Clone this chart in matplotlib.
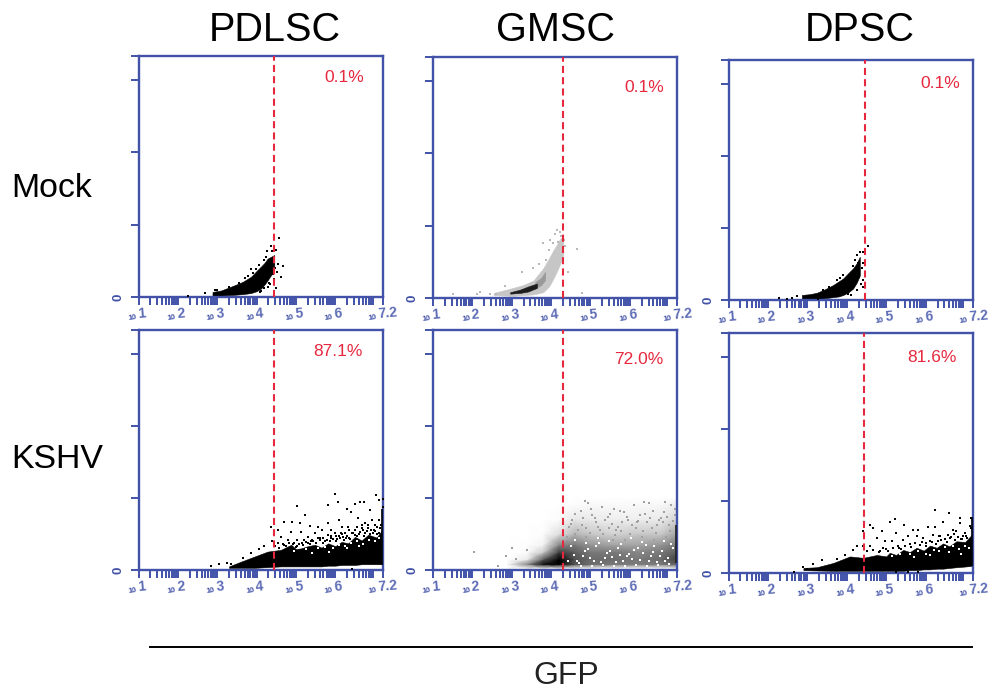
import numpy as np
import matplotlib
matplotlib.use("Agg")
import matplotlib.pyplot as plt
from matplotlib.lines import Line2D

plt.rcParams['font.family'] = ['Liberation Sans', 'DejaVu Sans']

columns = ["PDLSC", "GMSC", "DPSC"]
rows = ["Mock", "KSHV"]
x_label = "GFP"
percents = ["0.1%", "0.1%", "0.1%", "87.1%", "72.0%", "81.6%"]
gates = [4.44, 4.30, 4.45, 4.44, 4.30, 4.44]
exponents = ["1", "2", "3", "4", "5", "6", "7.2"]
exponent_pos = [1, 2, 3, 4, 5, 6, 7.2]

# core clouds: log10 x, lower and upper edge, y in tick units
pd_mock_x = [2.88, 3.10, 3.43, 3.65, 3.86, 4.00, 4.11, 4.20, 4.28, 4.45]
pd_mock_lo = [0.02, 0.02, 0.03, 0.04, 0.055, 0.08, 0.115, 0.17, 0.23, 0.37]
pd_mock_hi = [0.07, 0.09, 0.16, 0.21, 0.28, 0.36, 0.42, 0.47, 0.53, 0.58]
pd_mock_pts_x = [4.58, 4.37, 4.26, 4.50, 4.39, 4.67, 4.54, 4.61, 4.50, 4.20, 2.25, 2.70, 4.41, 4.45,
                 4.31, 4.09, 3.86, 3.98, 4.20, 4.47, 4.35, 4.52, 3.70, 3.55, 3.30, 3.00, 2.95, 4.05,
                 4.12, 4.18, 4.24, 4.30, 3.92, 3.78]
pd_mock_pts_y = [0.81, 0.71, 0.63, 0.65, 0.64, 0.43, 0.45, 0.27, 0.13, 0.12, 0.01, 0.05, 0.32, 0.25,
                 0.19, 0.07, 0.39, 0.39, 0.51, 0.40, 0.18, 0.35, 0.26, 0.20, 0.14, 0.09, 0.10, 0.44,
                 0.08, 0.12, 0.55, 0.14, 0.33, 0.29]

gm_mock_x = [2.54, 3.04, 3.30, 3.55, 3.80, 3.95, 4.06, 4.15, 4.23, 4.31]
gm_mock_lo = [0.04, 0.03, 0.04, 0.05, 0.08, 0.16, 0.27, 0.37, 0.47, 0.60]
gm_mock_hi = [0.07, 0.14, 0.18, 0.24, 0.41, 0.55, 0.66, 0.74, 0.82, 0.85]
gm_core_x = [2.96, 3.21, 3.42, 3.64]
gm_core_lo = [0.06, 0.07, 0.09, 0.14]
gm_core_hi = [0.08, 0.115, 0.16, 0.20]
gm_mid_x = [3.60, 3.75, 3.85]
gm_mid_lo = [0.13, 0.18, 0.25]
gm_mid_hi = [0.22, 0.28, 0.36]
gm_mock_pts_x = [1.51, 2.11, 2.20, 4.67, 4.78, 4.44, 3.79, 3.26, 3.55, 4.14, 4.23, 2.83, 3.97, 4.10,
                 4.30, 4.33, 4.26, 4.18, 2.45, 2.60, 3.70, 3.95, 4.05, 3.88, 4.36]
gm_mock_pts_y = [0.05, 0.05, 0.08, 0.68, 0.07, 0.36, 0.76, 0.36, 0.41, 0.94, 0.91, 0.17, 0.80, 0.88,
                 0.85, 0.80, 0.86, 0.78, 0.05, 0.06, 0.47, 0.66, 0.76, 0.52, 0.72]

dp_mock_x = [2.86, 3.05, 3.24, 3.45, 3.66, 3.80, 3.91, 4.05, 4.16, 4.25, 4.33]
dp_mock_lo = [0.015, 0.015, 0.015, 0.025, 0.04, 0.05, 0.07, 0.11, 0.16, 0.24, 0.34]
dp_mock_hi = [0.07, 0.08, 0.10, 0.15, 0.21, 0.26, 0.30, 0.38, 0.44, 0.51, 0.60]
dp_mock_pts_x = [4.53, 4.42, 4.33, 4.25, 2.28, 2.49, 2.60, 2.73, 4.46, 4.42, 4.25, 4.08, 4.04, 4.42,
                 4.29, 4.20, 3.91, 3.74, 3.28, 4.40, 4.38, 4.36, 4.10, 4.15, 4.31, 3.55, 3.40, 3.82]
dp_mock_pts_y = [0.75, 0.67, 0.67, 0.62, 0.03, 0.02, 0.03, 0.05, 0.35, 0.18, 0.14, 0.16, 0.09, 0.51,
                 0.51, 0.55, 0.35, 0.28, 0.01, 0.28, 0.44, 0.22, 0.07, 0.47, 0.32, 0.18, 0.14, 0.30]

pd_kshv_x = [3.30, 3.60, 3.94, 4.28, 4.62, 4.88, 5.00, 5.13, 5.30, 5.48, 5.65, 5.82, 6.00, 6.16, 6.33,
             6.50, 6.67, 6.84, 7.05, 7.20]
pd_kshv_lo = [0.03, 0.03, 0.03, 0.04, 0.05, 0.05, 0.05, 0.05, 0.05, 0.05, 0.05, 0.06, 0.06, 0.07, 0.07,
              0.07, 0.08, 0.08, 0.08, 0.08]
pd_kshv_hi = [0.05, 0.115, 0.185, 0.255, 0.28, 0.35, 0.29, 0.30, 0.33, 0.35, 0.31, 0.37, 0.33, 0.39, 0.37,
              0.46, 0.41, 0.49, 0.45, 0.56]
pd_kshv_pts_x = [5.99, 7.03, 6.08, 5.02, 5.82, 5.24, 4.69, 4.90, 4.45, 4.37, 4.54, 5.11, 5.35, 5.56, 5.82,
                 6.10, 6.31, 6.40, 6.50, 6.64, 6.74, 6.87, 7.10, 7.20, 7.20, 6.59, 6.76, 6.93, 7.10, 5.13,
                 4.88, 4.62, 4.79, 5.04, 5.30, 5.48, 5.65, 5.90, 6.16, 6.33, 6.50, 6.67, 6.84, 7.05, 5.56,
                 5.82, 5.99, 6.25, 6.42, 6.76, 5.30, 5.04, 6.10, 6.35, 6.60, 6.95, 7.10, 5.70, 5.90, 6.50,
                 4.40, 4.55, 4.20, 4.05, 3.85, 3.65, 3.35, 2.85, 3.05, 3.25, 6.42, 5.20, 5.42, 5.75, 6.05,
                 6.28, 6.70, 6.90, 7.00, 6.20, 4.70, 4.95, 5.15,
                 4.48, 4.58, 4.66, 4.74, 4.82, 4.92, 5.00, 5.08, 5.18, 5.26, 5.36, 5.44, 5.52, 5.60, 5.68,
                 5.78, 5.86, 5.94, 6.02, 6.12, 6.22, 6.30, 6.38, 6.46, 6.56, 6.64, 6.72, 6.80, 6.88, 6.98,
                 7.06, 7.14, 6.02, 6.18, 6.36, 6.54, 6.68, 6.82, 7.02, 7.16, 5.38, 5.62, 5.88, 6.14]
pd_kshv_pts_y = [1.06, 1.04, 0.95, 0.89, 0.90, 0.77, 0.67, 0.66, 0.53, 0.59, 0.56, 0.65, 0.61, 0.59, 0.65,
                 0.69, 0.84, 0.80, 0.92, 0.94, 0.94, 0.83, 0.97, 0.99, 0.88, 0.72, 0.65, 0.69, 0.69, 0.53,
                 0.53, 0.46, 0.42, 0.42, 0.46, 0.51, 0.56, 0.56, 0.59, 0.60, 0.56, 0.58, 0.58, 0.60, 0.44,
                 0.49, 0.51, 0.51, 0.51, 0.51, 0.37, 0.33, 0.47, 0.45, 0.50, 0.52, 0.52, 0.45, 0.44, 0.49,
                 0.40, 0.37, 0.33, 0.29, 0.24, 0.17, 0.09, 0.05, 0.09, 0.10, 0.02, 0.41, 0.42, 0.40, 0.43,
                 0.45, 0.55, 0.56, 0.54, 0.46, 0.34, 0.38, 0.37,
                 0.33, 0.31, 0.36, 0.33, 0.38, 0.36, 0.32, 0.36, 0.34, 0.39, 0.36, 0.40, 0.37, 0.41, 0.38,
                 0.42, 0.40, 0.43, 0.40, 0.44, 0.42, 0.47, 0.43, 0.52, 0.47, 0.53, 0.47, 0.54, 0.50, 0.55,
                 0.50, 0.58, 0.47, 0.50, 0.55, 0.60, 0.62, 0.62, 0.62, 0.63, 0.40, 0.44, 0.47, 0.52]
pd_edge_y = [0.07, 0.85]

# grey density of the GMSC KSHV cloud, 0 white to 1 black
gk_grid_x = [2.9, 3.4, 3.8, 4.2, 4.6, 5.0, 5.6, 6.2, 6.8, 7.2]
gk_grid_y = [0.02, 0.08, 0.15, 0.25, 0.35, 0.5, 0.7, 0.9, 1.02]
gk_density = [
    [0.00, 0.05, 0.05, 0.10, 0.10, 0.05, 0.02, 0.02, 0.02, 0.05],
    [0.05, 0.55, 0.95, 1.00, 0.75, 0.65, 0.60, 0.60, 0.60, 0.70],
    [0.00, 0.15, 0.70, 1.00, 0.75, 0.65, 0.65, 0.60, 0.65, 0.80],
    [0.00, 0.03, 0.30, 0.80, 0.70, 0.60, 0.60, 0.55, 0.60, 0.70],
    [0.00, 0.02, 0.10, 0.55, 0.60, 0.50, 0.45, 0.45, 0.50, 0.60],
    [0.00, 0.00, 0.03, 0.22, 0.40, 0.33, 0.28, 0.33, 0.33, 0.45],
    [0.00, 0.00, 0.00, 0.03, 0.18, 0.16, 0.14, 0.14, 0.16, 0.28],
    [0.00, 0.00, 0.00, 0.00, 0.03, 0.06, 0.05, 0.05, 0.07, 0.14],
    [0.00, 0.00, 0.00, 0.00, 0.00, 0.00, 0.00, 0.00, 0.00, 0.00],
]
gk_pts_x = [2.65, 3.00, 2.85, 2.05, 3.10, 3.40, 4.85, 4.95, 5.30, 5.60, 5.75, 6.10, 6.35, 6.50, 6.90,
            7.05, 4.60, 4.75, 5.05, 5.45, 5.85, 6.25, 6.60, 6.80, 4.45, 5.15, 5.55, 5.95, 6.45, 6.95,
            4.30, 4.50, 4.90, 5.25, 5.70, 6.15, 6.70, 7.10, 4.52, 4.68, 4.82, 5.02, 5.18, 5.36, 5.50,
            5.66, 5.80, 5.92, 6.06, 6.22, 6.38, 6.56, 6.74, 6.86, 7.00, 7.14, 4.40, 4.62, 4.78, 4.98,
            5.12, 5.32, 5.46, 5.62, 5.78, 6.00, 6.18, 6.34, 6.52, 6.66, 6.84, 7.02, 7.16, 4.56, 4.88,
            5.22, 5.58, 5.88, 6.30, 6.62, 6.92]
gk_pts_y = [0.05, 0.30, 0.20, 0.25, 0.15, 0.28, 0.96, 0.93, 0.88, 0.85, 0.82, 0.90, 0.94, 0.93, 0.95,
            0.90, 0.78, 0.82, 0.76, 0.74, 0.80, 0.76, 0.82, 0.72, 0.60, 0.66, 0.64, 0.70, 0.66, 0.74,
            0.52, 0.64, 0.58, 0.56, 0.60, 0.58, 0.62, 0.68, 0.70, 0.56, 0.72, 0.84, 0.60, 0.70, 0.78,
            0.56, 0.66, 0.74, 0.62, 0.68, 0.78, 0.58, 0.70, 0.80, 0.62, 0.84, 0.46, 0.50, 0.62, 0.52,
            0.72, 0.50, 0.58, 0.48, 0.54, 0.50, 0.66, 0.54, 0.72, 0.52, 0.66, 0.54, 0.76, 0.44, 0.46,
            0.44, 0.42, 0.42, 0.46, 0.42, 0.46]
gk_gap_x = [4.42, 4.58, 4.72, 4.86, 5.00, 5.14, 5.28, 5.42, 5.56, 5.70, 5.84, 5.98, 6.12, 6.26, 6.40,
            6.54, 6.68, 6.82, 6.96, 7.10, 4.50, 4.66, 4.80, 4.94, 5.08, 5.22, 5.36, 5.50, 5.64, 5.78,
            5.92, 6.06, 6.20, 6.34, 6.48, 6.62, 6.76, 6.90, 7.04, 4.62, 4.90, 5.18, 5.46, 5.74, 6.02,
            6.30, 6.58, 6.86, 4.76, 5.04, 5.32, 5.60, 5.88, 6.16, 6.44, 6.72, 7.00]
gk_gap_y = [0.13, 0.21, 0.10, 0.27, 0.16, 0.33, 0.11, 0.24, 0.18, 0.31, 0.12, 0.22, 0.28, 0.14, 0.35,
            0.19, 0.11, 0.26, 0.16, 0.30, 0.33, 0.12, 0.20, 0.29, 0.13, 0.38, 0.17, 0.26, 0.11, 0.36,
            0.20, 0.15, 0.30, 0.23, 0.12, 0.33, 0.19, 0.13, 0.36, 0.42, 0.37, 0.45, 0.40, 0.21, 0.44,
            0.39, 0.25, 0.40, 0.06, 0.05, 0.07, 0.06, 0.06, 0.07, 0.06, 0.07, 0.08]
gk_edge_y = [0.1, 0.62]

dp_kshv_x = [2.90, 3.24, 3.66, 4.08, 4.42, 4.76, 5.00, 5.09, 5.25, 5.43, 5.60, 5.77, 5.95, 6.11, 6.28, 6.44,
             6.60, 6.78, 7.00, 7.20]
dp_kshv_lo = [0.04, 0.035, 0.03, 0.03, 0.03, 0.03, 0.03, 0.03, 0.03, 0.03, 0.04, 0.04, 0.05, 0.05, 0.06,
              0.06, 0.07, 0.08, 0.09, 0.10]
dp_kshv_hi = [0.07, 0.08, 0.14, 0.23, 0.21, 0.25, 0.23, 0.28, 0.25, 0.32, 0.29, 0.35, 0.31, 0.38, 0.35,
              0.41, 0.37, 0.44, 0.43, 0.55]
dp_kshv_pts_x = [6.23, 6.59, 6.86, 5.22, 5.09, 4.59, 5.46, 4.88, 4.42, 4.67, 5.26, 5.68, 5.81, 6.06, 6.23,
                 6.43, 6.70, 6.86, 7.14, 7.12, 4.76, 4.97, 5.14, 5.56, 5.43, 5.77, 5.94, 6.19, 6.36, 6.57,
                 6.78, 6.99, 4.25, 4.16, 4.42, 4.59, 3.36, 3.15, 2.90, 2.98, 2.65, 5.26, 5.56, 5.81, 3.95,
                 3.74, 5.30, 5.60, 6.00, 6.30, 6.50, 6.65, 6.95, 7.05, 5.00, 4.85, 6.10, 6.90, 7.10,
                 4.50, 4.66, 4.82, 4.92, 5.04, 5.18, 5.32, 5.48, 5.64, 5.72, 5.86, 6.02, 6.16, 6.26, 6.40,
                 6.54, 6.62, 6.74, 6.82, 6.92, 7.02, 7.16, 5.38, 5.90, 6.34, 6.72]
dp_kshv_pts_y = [0.87, 0.83, 0.76, 0.75, 0.71, 0.67, 0.67, 0.58, 0.58, 0.62, 0.56, 0.59, 0.59, 0.64, 0.64,
                 0.71, 0.60, 0.69, 0.76, 0.65, 0.48, 0.44, 0.44, 0.51, 0.46, 0.51, 0.48, 0.53, 0.51, 0.53,
                 0.58, 0.55, 0.37, 0.32, 0.37, 0.37, 0.18, 0.12, 0.08, 0.06, 0.01, 0.02, 0.02, 0.02, 0.25,
                 0.19, 0.38, 0.40, 0.42, 0.45, 0.47, 0.50, 0.52, 0.48, 0.33, 0.31, 0.44, 0.47, 0.44,
                 0.30, 0.32, 0.29, 0.34, 0.31, 0.35, 0.34, 0.38, 0.36, 0.41, 0.39, 0.37, 0.43, 0.40, 0.46,
                 0.43, 0.49, 0.46, 0.50, 0.47, 0.51, 0.63, 0.33, 0.43, 0.52, 0.54]
dp_edge_y = [0.10, 0.78]

# white gaps near the top of the dense KSHV clouds
pd_gap_x = [4.95, 5.25, 5.55, 5.75, 5.95, 6.10, 6.25, 6.40, 6.55, 6.70, 6.85, 7.00, 7.10, 5.40, 5.85, 6.30, 6.60]
pd_gap_y = [0.27, 0.29, 0.30, 0.32, 0.30, 0.35, 0.33, 0.38, 0.40, 0.36, 0.42, 0.40, 0.44, 0.24, 0.25, 0.30, 0.33]
dp_gap_x = [5.15, 5.35, 5.60, 5.80, 6.00, 6.20, 6.35, 6.50, 6.70, 6.85, 7.00, 7.10, 5.70, 6.10, 6.60, 6.90]
dp_gap_y = [0.23, 0.27, 0.26, 0.30, 0.27, 0.32, 0.30, 0.36, 0.38, 0.33, 0.38, 0.35, 0.22, 0.25, 0.29, 0.26]

BLUE = "#4152a8"
RED = "#e6283f"
W, H = 989, 691
XMAX = 10 ** 7.2
YMAX = 3.33

fig = plt.figure(figsize=(W / 100, H / 100), dpi=100)


def make_axes(left, right, top, bottom):
    ax = fig.add_axes([left / W, 1 - bottom / H, (right - left) / W, (bottom - top) / H])
    ax.set_xscale("log")
    ax.set_xlim(10, XMAX)
    ax.set_ylim(0, YMAX)
    ax.set_xticks([10.0 ** e for e in exponent_pos])
    ax.set_xticks([d * 10.0 ** k for k in range(1, 7) for d in range(2, 10)], minor=True)
    ax.set_yticks([0, 1, 2, 3, YMAX])
    ax.set_xticklabels([])
    ax.set_xticklabels([], minor=True)
    ax.set_yticklabels([])
    ax.tick_params(axis="both", which="both", color=BLUE, width=1.4, length=5.8, direction="out")
    for s in ax.spines.values():
        s.set_color(BLUE)
        s.set_linewidth(1.7)
    for e, p in zip(exponents, exponent_pos):
        off = -3.5 if e == "7.2" else -1
        ten = -7 if e == "7.2" else -4.5
        ax.annotate("10", (10.0 ** p, 0), xytext=(ten, -15), textcoords="offset points", xycoords=("data", "axes fraction"),
                    color=BLUE, fontsize=5.5, fontweight="bold", ha="center", va="center", rotation=8,
                    annotation_clip=False)
        ax.annotate(e, (10.0 ** p, 0), xytext=(off, -12), textcoords="offset points", xycoords=("data", "axes fraction"),
                    color=BLUE, fontsize=10, fontweight="bold", alpha=0.85, ha="left", va="center", rotation=5,
                    annotation_clip=False)
    ax.annotate("0", (0, 0), xytext=(-14.5, 0), textcoords="offset points", xycoords="axes fraction",
                color=BLUE, fontsize=9.5, fontweight="bold", rotation=90, ha="center", va="center",
                annotation_clip=False)
    return ax


def band(ax, xs, lo, hi, color="black"):
    ax.fill_between(np.power(10.0, xs), lo, hi, color=color, linewidth=0.4, zorder=2)


def dots(ax, xs, ys, color="black", size=1.8, z=3):
    ax.scatter(np.power(10.0, xs), ys, s=size, c=color, marker="s", linewidths=0, zorder=z)


boxes = [
    (138.5, 382.5, 56, 297), (433, 677, 57, 298), (728.5, 973, 60, 300),
    (138.5, 382.5, 330, 570), (433, 677, 330, 570), (728.5, 973, 333, 573),
]
text_pos = [(344, 78), (644, 87), (940, 84), (338, 351), (639, 359), (932, 358)]
axes = [make_axes(*b) for b in boxes]

band(axes[0], pd_mock_x, pd_mock_lo, pd_mock_hi)
dots(axes[0], pd_mock_pts_x, pd_mock_pts_y)

band(axes[1], gm_mock_x, gm_mock_lo, gm_mock_hi, "#c6c6c6")
band(axes[1], gm_mid_x, gm_mid_lo, gm_mid_hi, "#9a9a9a")
band(axes[1], gm_core_x, gm_core_lo, gm_core_hi, "#1c1c1c")
dots(axes[1], gm_mock_pts_x, gm_mock_pts_y, "#b8b8b8")

band(axes[2], dp_mock_x, dp_mock_lo, dp_mock_hi)
dots(axes[2], dp_mock_pts_x, dp_mock_pts_y)

band(axes[3], pd_kshv_x, pd_kshv_lo, pd_kshv_hi)
dots(axes[3], pd_kshv_pts_x, pd_kshv_pts_y)
dots(axes[3], pd_gap_x, pd_gap_y, "white", 1.2, 4)
axes[3].vlines(10 ** 7.18, pd_edge_y[0], pd_edge_y[1], color="black", lw=1.2, zorder=3)

axes[4].pcolormesh(np.power(10.0, gk_grid_x), gk_grid_y, np.array(gk_density), shading="gouraud",
                   cmap="Greys", vmin=0, vmax=1, zorder=2)
dots(axes[4], gk_pts_x, gk_pts_y, "#a0a0a0", 1.5)
dots(axes[4], gk_gap_x, gk_gap_y, "white", 1.5, 4)
axes[4].vlines(10 ** 7.18, gk_edge_y[0], gk_edge_y[1], color="#222222", lw=1.2, zorder=3)

band(axes[5], dp_kshv_x, dp_kshv_lo, dp_kshv_hi)
dots(axes[5], dp_kshv_pts_x, dp_kshv_pts_y)
dots(axes[5], dp_gap_x, dp_gap_y, "white", 1.2, 4)
axes[5].vlines(10 ** 7.18, dp_edge_y[0], dp_edge_y[1], color="black", lw=1.2, zorder=3)

for ax, g, p, pos in zip(axes, gates, percents, text_pos):
    ax.plot([10 ** g, 10 ** g], [0, YMAX], color=RED, lw=1.5, dashes=(3.4, 2.0), zorder=5)
    fig.text(pos[0] / W, 1 - pos[1] / H, p, color=RED, fontsize=12.5, ha="center", va="center")

for name, x in zip(columns, [275, 556, 860]):
    fig.text(x / W, 1 - 30 / H, name, fontsize=28.5, ha="center", va="center")
for name, y in zip(rows, [189, 459]):
    fig.text(11 / W, 1 - y / H, name, fontsize=24.4, ha="left", va="center")

fig.add_artist(Line2D([150 / W, 972 / W], [1 - 647 / H, 1 - 647 / H], color="black", lw=1.4))
fig.text(566 / W, 1 - 676 / H, x_label, fontsize=23, color="#222222", ha="center", va="center")

fig.savefig("out.png", dpi=100)
